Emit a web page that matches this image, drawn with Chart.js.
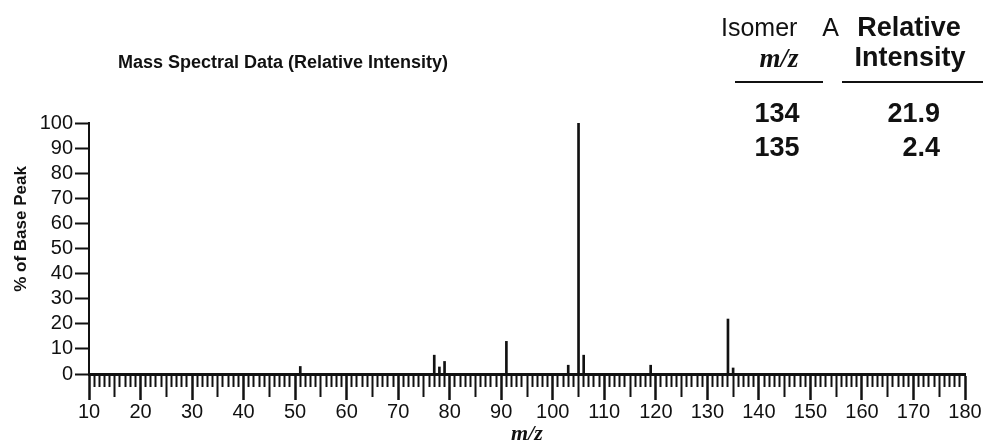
<!DOCTYPE html>
<html>
<head>
<meta charset="utf-8">
<script src="https://cdn.jsdelivr.net/npm/chart.js@4/dist/chart.umd.min.js"></script>
<style>
  html, body { margin: 0; padding: 0; background: #fff; }
  #wrap { width: 984px; height: 445px; }
</style>
</head>
<body>
<div id="wrap"><canvas id="c" width="984" height="445"></canvas></div>
<script>
// ---- data ----
const mzValues    = [51, 77, 78, 79, 91, 103, 105, 106, 119, 134, 135];
const intensities = [3, 7.5, 2.8, 5, 13, 3.5, 100, 7.5, 3.5, 21.9, 2.4];
const xMin = 10, xMax = 180;
const yMin = 0, yMax = 100, yStep = 10;
const chartTitle = 'Mass Spectral Data (Relative Intensity)';
const yTitle = '% of Base Peak';
const xTitle = 'm/z';
const tableIsomer = ['Isomer', 'A'];
const tableHeadMz = 'm/z';
const tableHeadInt = ['Relative', 'Intensity'];
const tableMz = ['134', '135'];
const tableIntensity = ['21.9', '2.4'];

const INK = '#111';
const SANS = '"Liberation Sans", Arial, sans-serif';
const SERIF = '"Liberation Serif", "Times New Roman", serif';

const textPlugin = {
  id: 'texts',
  afterDraw(chart) {
    const ctx = chart.ctx;
    ctx.save();
    ctx.fillStyle = INK;
    ctx.strokeStyle = INK;
    ctx.textBaseline = 'alphabetic';
    // main title
    ctx.font = 'bold 18px ' + SANS;
    ctx.textAlign = 'left';
    ctx.fillText(chartTitle, 118, 68);
    // y title (rotated)
    ctx.save();
    ctx.translate(26, 229);
    ctx.rotate(-Math.PI / 2);
    ctx.font = 'bold 17px ' + SANS;
    ctx.textAlign = 'center';
    ctx.fillText(yTitle, 0, 0);
    ctx.restore();
    // table headers
    ctx.font = '25px ' + SANS;
    ctx.textAlign = 'left';
    ctx.fillText(tableIsomer[0], 721, 36);
    ctx.textAlign = 'right';
    ctx.fillText(tableIsomer[1], 839, 36);
    ctx.font = 'bold 27px ' + SANS;
    ctx.textAlign = 'center';
    ctx.fillText(tableHeadInt[0], 909, 36);
    ctx.fillText(tableHeadInt[1], 910, 66);
    ctx.font = 'italic bold 27px ' + SERIF;
    ctx.fillText(tableHeadMz, 779, 67);
    // rules
    ctx.lineWidth = 2;
    ctx.beginPath();
    ctx.moveTo(735, 82); ctx.lineTo(823, 82);
    ctx.moveTo(842, 82); ctx.lineTo(983, 82);
    ctx.stroke();
    // table rows
    ctx.font = 'bold 27px ' + SANS;
    const rowY = [122, 156];
    for (let i = 0; i < tableMz.length; i++) {
      ctx.textAlign = 'center';
      ctx.fillText(tableMz[i], 777, rowY[i]);
      ctx.textAlign = 'right';
      ctx.fillText(tableIntensity[i], 940, rowY[i]);
    }
    ctx.restore();
  }
};

new Chart(document.getElementById('c'), {
  type: 'bar',
  data: {
    datasets: [{
      data: mzValues.map((m, i) => ({ x: m, y: intensities[i] })),
      backgroundColor: INK,
      borderWidth: 0,
      barThickness: 2
    }]
  },
  options: {
    responsive: false,
    animation: false,
    events: [],
    layout: { padding: { left: 0, top: 123, right: 19, bottom: 0 } },
    plugins: { legend: { display: false }, tooltip: { enabled: false }, title: { display: false } },
    scales: {
      x: {
        type: 'linear',
        min: xMin, max: xMax,
        offset: false,
        afterFit(scale) { scale.height = 71; },
        border: { display: true, color: INK, width: 3 },
        grid: {
          offset: false,
          drawOnChartArea: false,
          drawTicks: true,
          color: INK,
          tickColor: INK,
          tickLength: 26,
          tickWidth: (ctx) => (ctx.tick && ctx.tick.value % 10 === 0) ? 2.5 : 2,
          tickBorderDash: (ctx) => {
            const v = ctx.tick ? Math.round(ctx.tick.value) : 0;
            if (v % 10 === 0) return [];
            if (v % 5 === 0) return [21, 200];
            return [11, 200];
          }
        },
        ticks: {
          stepSize: 1,
          autoSkip: false,
          maxRotation: 0,
          minRotation: 0,
          padding: 0,
          color: INK,
          font: { family: SANS, size: 20 },
          callback: (v) => (Math.round(v) % 10 === 0 ? String(Math.round(v)) : '')
        },
        title: {
          display: true,
          text: xTitle,
          color: INK,
          font: { family: SERIF, size: 22, style: 'italic', weight: 'bold', lineHeight: 1 },
          padding: { top: 0, bottom: 0 }
        }
      },
      y: {
        min: yMin, max: yMax,
        afterFit(scale) { scale.width = 89; },
        border: { display: true, color: INK, width: 2 },
        grid: {
          drawOnChartArea: false,
          color: INK,
          tickColor: INK,
          tickLength: 14,
          tickWidth: 2
        },
        ticks: {
          stepSize: yStep,
          autoSkip: false,
          padding: 2,
          color: INK,
          font: { family: SANS, size: 20 }
        }
      }
    }
  },
  plugins: [textPlugin]
});
</script>
</body>
</html>
